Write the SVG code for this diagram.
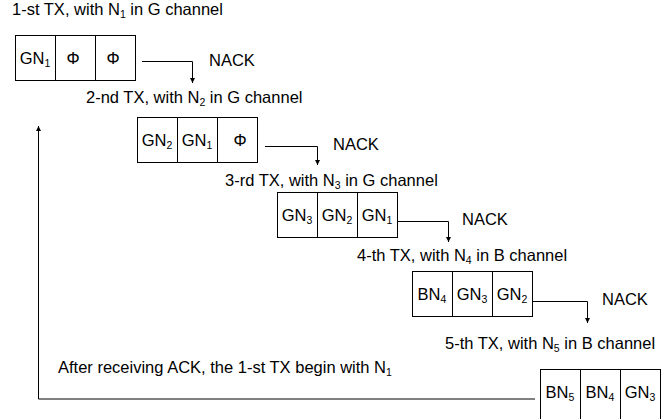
<svg xmlns="http://www.w3.org/2000/svg" width="664" height="419" viewBox="0 0 664 419">
<defs>
<style>
text{font-family:"Liberation Sans",Arial,sans-serif;font-size:16.5px;fill:#000}
.sub{font-size:10.5px}
.box{fill:#fff;stroke:#000;stroke-width:1}
.conn{fill:none;stroke:#000;stroke-width:1}
.cell{text-anchor:middle}
</style>
<marker id="ah" viewBox="0 0 10 10" refX="10" refY="5" markerWidth="6" markerHeight="5" orient="auto" markerUnits="userSpaceOnUse">
<path d="M0,0 L10,5 L0,10 z" fill="#000"/>
</marker>
</defs>
<rect width="664" height="419" fill="#fff"/>

<g id="labels">
<text x="12" y="15">1-st TX, with N<tspan class="sub" dy="3">1</tspan><tspan dy="-3"> in G channel</tspan></text>
<text x="86" y="103">2-nd TX, with N<tspan class="sub" dy="3">2</tspan><tspan dy="-3"> in G channel</tspan></text>
<text x="225" y="186">3-rd TX, with N<tspan class="sub" dy="3">3</tspan><tspan dy="-3"> in G channel</tspan></text>
<text x="357" y="261">4-th TX, with N<tspan class="sub" dy="3">4</tspan><tspan dy="-3"> in B channel</tspan></text>
<text x="445" y="349">5-th TX, with N<tspan class="sub" dy="3">5</tspan><tspan dy="-3"> in B channel</tspan></text>
<text x="58" y="373">After receiving ACK, the 1-st TX begin with N<tspan class="sub" dy="3">1</tspan></text>
<text x="209" y="66">NACK</text>
<text x="333" y="150">NACK</text>
<text x="462" y="225">NACK</text>
<text x="602" y="305">NACK</text>
</g>

<g id="connectors">
<path class="conn" d="M142,61.5 H192.5 V83" marker-end="url(#ah)"/>
<path class="conn" d="M265,146.5 H317.5 V165" marker-end="url(#ah)"/>
<path class="conn" d="M397,221.5 H448.5 V242" marker-end="url(#ah)"/>
<path class="conn" d="M532,301.5 H587.5 V323" marker-end="url(#ah)"/>
<path class="conn" d="M535,399 H38.5 V126" marker-end="url(#ah)"/>
</g>

<g id="tx1">
<rect class="box" x="15.5" y="35.5" width="120" height="45"/>
<line class="conn" x1="55.5" y1="35.5" x2="55.5" y2="80.5"/>
<line class="conn" x1="95.5" y1="35.5" x2="95.5" y2="80.5"/>
<text class="cell" x="35" y="64">GN<tspan class="sub" dy="3">1</tspan></text>
<text class="cell" x="73" y="64">Φ</text>
<text class="cell" x="113" y="64">Φ</text>
</g>

<g id="tx2">
<rect class="box" x="137.5" y="117.5" width="120" height="45"/>
<line class="conn" x1="177.5" y1="117.5" x2="177.5" y2="162.5"/>
<line class="conn" x1="217.5" y1="117.5" x2="217.5" y2="162.5"/>
<text class="cell" x="157" y="146">GN<tspan class="sub" dy="3">2</tspan></text>
<text class="cell" x="197" y="146">GN<tspan class="sub" dy="3">1</tspan></text>
<text class="cell" x="240" y="146">Φ</text>
</g>

<g id="tx3">
<rect class="box" x="277.5" y="192.5" width="120" height="45"/>
<line class="conn" x1="317.5" y1="192.5" x2="317.5" y2="237.5"/>
<line class="conn" x1="357.5" y1="192.5" x2="357.5" y2="237.5"/>
<text class="cell" x="297" y="221">GN<tspan class="sub" dy="3">3</tspan></text>
<text class="cell" x="337" y="221">GN<tspan class="sub" dy="3">2</tspan></text>
<text class="cell" x="377" y="221">GN<tspan class="sub" dy="3">1</tspan></text>
</g>

<g id="tx4">
<rect class="box" x="412.5" y="271.5" width="120" height="45"/>
<line class="conn" x1="452.5" y1="271.5" x2="452.5" y2="316.5"/>
<line class="conn" x1="492.5" y1="271.5" x2="492.5" y2="316.5"/>
<text class="cell" x="432" y="300">BN<tspan class="sub" dy="3">4</tspan></text>
<text class="cell" x="472" y="300">GN<tspan class="sub" dy="3">3</tspan></text>
<text class="cell" x="512" y="300">GN<tspan class="sub" dy="3">2</tspan></text>
</g>

<g id="tx5">
<rect class="box" x="540.5" y="369.5" width="120" height="54"/>
<line class="conn" x1="580.5" y1="369.5" x2="580.5" y2="423"/>
<line class="conn" x1="620.5" y1="369.5" x2="620.5" y2="423"/>
<text class="cell" x="560" y="398">BN<tspan class="sub" dy="3">5</tspan></text>
<text class="cell" x="600" y="398">BN<tspan class="sub" dy="3">4</tspan></text>
<text class="cell" x="640" y="398">GN<tspan class="sub" dy="3">3</tspan></text>
</g>
</svg>
